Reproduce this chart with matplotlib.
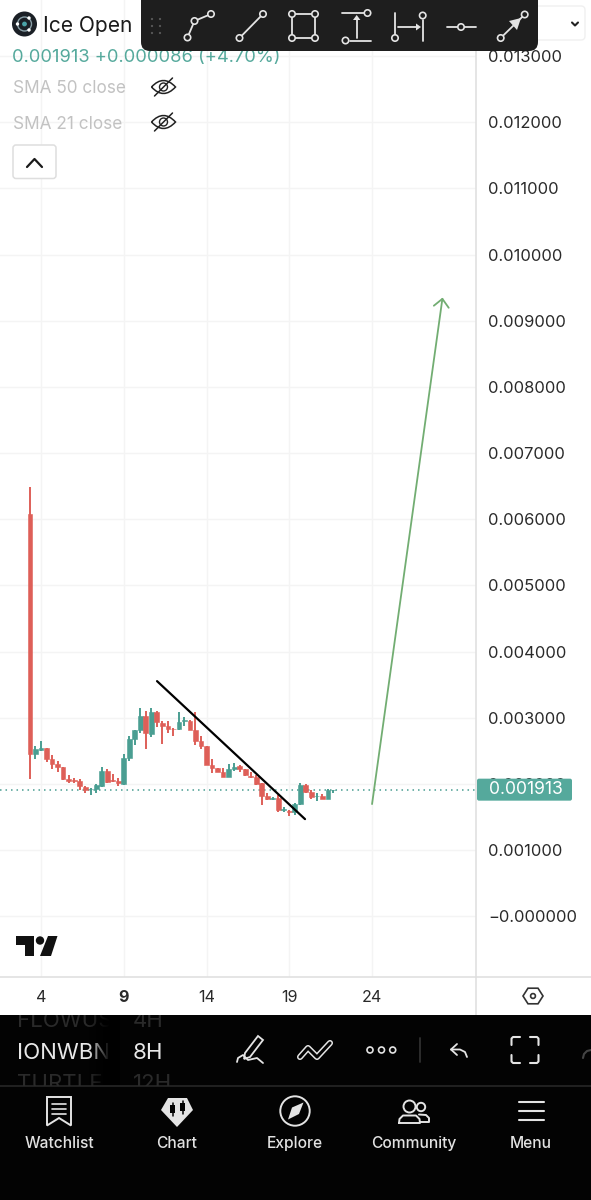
import numpy as np
import matplotlib
matplotlib.use('Agg')
import matplotlib.pyplot as plt
from matplotlib.patches import Rectangle, Circle, Polygon, FancyBboxPatch, PathPatch
from matplotlib.path import Path

plt.rcParams['font.family'] = ['Inter', 'DejaVu Sans']

W, H = 591, 1200

# candle values in millionths, one candle per 8 hours, candle 2 sits on day 4
opens = [6076, 2450, 2511, 2546, 2375, 2299, 2249, 2078, 2058, 2037, 1957, 1917, 1917, 1972,
         2198, 2052, 2037, 1992, 2390, 2672, 2808, 3019, 2757, 3085, 2924, 2873, 2833, 2823,
         2944, 2954, 2818, 2652, 2566, 2284, 2244, 2173, 2103, 2224, 2264, 2224, 2123, 2103,
         2007, 1816, 1765, 1791, 1599, 1594, 1569, 1695, 1982, 1871, 1811, 1821, 1776, 1906]
highs = [6483, 2566, 2647, 2546, 2430, 2339, 2249, 2133, 2093, 2073, 1967, 1932, 1997, 2249,
         2219, 2143, 2083, 2450, 2722, 2813, 3140, 3100, 3150, 3100, 2954, 2954, 2838, 3080,
         3004, 2964, 3090, 2727, 2566, 2370, 2244, 2244, 2294, 2319, 2284, 2229, 2183, 2133,
         2007, 1866, 1806, 1831, 1645, 1604, 1715, 2017, 1992, 1906, 1866, 1841, 1917, 1913]
lows = [2068, 2370, 2496, 2334, 2224, 2183, 2058, 2007, 2007, 1906, 1866, 1826, 1856, 1947,
        2007, 2032, 1972, 1977, 2344, 2586, 2762, 2526, 2712, 2853, 2606, 2762, 2727, 2813,
        2878, 2818, 2586, 2526, 2289, 2158, 2173, 2098, 2103, 2193, 2178, 2118, 2083, 1987,
        1685, 1755, 1755, 1569, 1579, 1519, 1529, 1680, 1866, 1776, 1745, 1771, 1771, 1856]
closes = [2450, 2521, 2546, 2375, 2299, 2249, 2073, 2037, 2037, 1962, 1901, 1927, 1977, 2193,
          2027, 2042, 2007, 2385, 2672, 2808, 3019, 2762, 3085, 2929, 2878, 2828, 2823, 2939,
          2959, 2818, 2652, 2566, 2289, 2244, 2173, 2103, 2224, 2259, 2224, 2128, 2103, 2002,
          1821, 1765, 1791, 1604, 1619, 1574, 1695, 1982, 1871, 1801, 1821, 1776, 1906, 1913]

price_ticks = [0.013, 0.012, 0.011, 0.010, 0.009, 0.008, 0.007, 0.006, 0.005, 0.004, 0.003,
               0.002, 0.001, -0.0]
price_labels = ['0.013000', '0.012000', '0.011000', '0.010000', '0.009000', '0.008000',
                '0.007000', '0.006000', '0.005000', '0.004000', '0.003000', '0.002000',
                '0.001000', '\u22120.000000']
day_ticks = [4, 9, 14, 19, 24]
last_price = 0.001913

trend_days = [11.01, 19.95]
trend_prices = [0.003553, 0.001468]
arrow_days = [24.0, 28.26]
arrow_prices = [0.001695, 0.009350]

UP = '#4a9e92'
DOWN = '#de5f58'
GRID = '#f4f4f4'
AXIS = '#dedede'
TAG = '#55a99c'
BAR = '#1e1e1e'
LIGHT = '#e4e4e4'

fig = plt.figure(figsize=(W / 100, H / 100), dpi=100, facecolor='white')

# chart area runs to x=476 and y=977 of the screenshot
ax = fig.add_axes([0, (H - 977) / H, 476 / W, 977 / H])
ax.set_xlim(1.523, 30.28)
ax.set_ylim(-0.000918, 0.013846)
for s in ax.spines.values():
    s.set_visible(False)

ax.set_axisbelow(True)
ax.grid(True, color=GRID, lw=1)
ax.yaxis.tick_right()
ax.set_yticks(price_ticks)
ax.set_yticklabels(price_labels, ha='left')
ax.tick_params(axis='y', length=0, pad=8.6, labelsize=11.9, labelcolor='#2a2a2a')
ax.set_xticks(day_ticks)
ax.set_xticklabels([str(d) for d in day_ticks])
ax.tick_params(axis='x', length=0, pad=9.4, labelsize=11.6, labelcolor='#2a2a2a')
ax.get_xticklabels()[1].set_fontweight('bold')

o = np.array(opens) / 1e6
h = np.array(highs) / 1e6
l = np.array(lows) / 1e6
c = np.array(closes) / 1e6
days = 4 + (np.arange(len(o)) - 2) / 3
colors = [UP if cc >= oo else DOWN for oo, cc in zip(o, c)]

ax.axhline(last_price, color=UP, lw=1.1, ls=(0, (1, 2.6)), zorder=1.5)
ax.vlines(days, l, h, colors=colors, lw=1.4, zorder=2)
ax.bar(days, np.abs(c - o), bottom=np.minimum(o, c), width=0.29, color=colors,
       edgecolor=colors, lw=0.4, zorder=3)

ax.plot(trend_days, trend_prices, color='black', lw=1.6, zorder=4, solid_capstyle='round')
ax.annotate('', xy=(arrow_days[1], arrow_prices[1]), xytext=(arrow_days[0], arrow_prices[0]),
            arrowprops=dict(arrowstyle='->,head_length=0.48,head_width=0.45', color='#72ad72',
                            lw=1.3, shrinkA=0, shrinkB=0, mutation_scale=12), zorder=4)

# overlay in screenshot pixels for the app's own chrome
ov = fig.add_axes([0, 0, 1, 1], zorder=5)
ov.set_xlim(0, W)
ov.set_ylim(H, 0)
ov.axis('off')
ov.patch.set_visible(False)


def ln(xs, ys, color=LIGHT, lw=1.3, z=10, **kw):
    ov.plot(xs, ys, color=color, lw=lw, zorder=z, solid_capstyle='round', **kw)


def ring(x, y, r=3.2, ec=LIGHT, fc=BAR, lw=1.2, z=11):
    ov.add_patch(Circle((x, y), r, fc=fc, ec=ec, lw=lw, zorder=z))


def label(x, y, s, size, color, ha='left', z=10, **kw):
    return ov.text(x, y, s, fontsize=size, color=color, ha=ha, va='baseline', zorder=z, **kw)


def eye(cx, cy):
    verts = [(cx - 12, cy), (cx, cy - 13), (cx + 12, cy), (cx, cy + 13), (cx - 12, cy)]
    codes = [Path.MOVETO, Path.CURVE3, Path.CURVE3, Path.CURVE3, Path.CURVE3]
    ov.add_patch(PathPatch(Path(verts, codes), fc='none', ec='#222222', lw=1.1, zorder=6))
    ov.add_patch(Circle((cx, cy), 4, fc='none', ec='#222222', lw=1.0, zorder=6))
    ln([cx - 9, cx + 9], [cy + 9, cy - 9], color='#222222', lw=1.1, z=6)


# price axis, time axis and current price tag
ln([476, 476], [0, 1015], color=AXIS, lw=1.1, z=1)
ln([0, 591], [977, 977], color=AXIS, lw=1.1, z=1)
tag_y = H - ax.transData.transform((0, last_price))[1]
ov.add_patch(FancyBboxPatch((477, tag_y - 11), 95, 22, boxstyle='round,pad=0,rounding_size=2',
                            fc=TAG, ec='none', zorder=3))
ov.text(526, tag_y, f'{last_price:.6f}', fontsize=12.6, color='white', ha='center',
        va='center', zorder=4)
hex_a = np.radians(np.arange(0, 360, 60))
ov.add_patch(Polygon(np.c_[533 + 10 * np.cos(hex_a), 996 + 9 * np.sin(hex_a)], fc='none',
                     ec='#333333', lw=1.2))
ov.add_patch(Circle((533, 996), 2.4, fc='none', ec='#333333', lw=1.2))

# TradingView mark
ov.add_patch(Polygon([(16, 936), (33.5, 936), (33.5, 956), (25, 956), (25, 945), (16, 945)],
                     fc='#111111', ec='none'))
ov.add_patch(Circle((40, 940.5), 4.2, fc='#111111', ec='none'))
ov.add_patch(Polygon([(48, 936), (57.5, 936), (51, 956), (40, 956)], fc='#111111', ec='none'))

# legend block
ov.add_patch(Circle((24.5, 24), 12.5, fc='#1b2026', ec='none', zorder=5))
ov.add_patch(Circle((24.5, 24), 7, fc='none', ec='#8aa0a8', lw=1, zorder=6))
ov.add_patch(Circle((24.5, 24), 2.4, fc='#4aa3a8', ec='none', zorder=6))
for dx, dy in [(4.5, -6), (4.5, 6), (-7, 0)]:
    ov.add_patch(Circle((24.5 + dx, 24 + dy), 1.7, fc='white', ec='none', zorder=6))
label(43, 32, 'Ice Open', 15.1, '#1b1b1b', z=5)
label(12, 61.5, '0.001913 +0.000086 (+4.70%)', 13.2, TAG, z=5)
label(13, 93, 'SMA 50 close', 12.4, '#c2c2c2', z=5)
label(13, 129, 'SMA 21 close', 12.4, '#c2c2c2', z=5)
eye(163.5, 87)
eye(163.5, 122)
ov.add_patch(FancyBboxPatch((13, 145), 43, 33.5, boxstyle='round,pad=0,rounding_size=3',
                            fc='white', ec='#dedede', lw=1.1, zorder=5))
ln([27, 34.5, 42], [167, 159, 167], color='#1a1a1a', lw=1.6, z=6)

# dropdown behind the toolbar's right end
ov.add_patch(FancyBboxPatch((520, 6), 65, 34, boxstyle='round,pad=0,rounding_size=4',
                            fc='white', ec='#f0f0f0', lw=1, zorder=5))
ln([572, 575, 578], [22.5, 25.5, 22.5], color='#222222', lw=1.5, z=6)

# floating drawing toolbar
ov.add_patch(FancyBboxPatch((141, -10), 397, 61, boxstyle='round,pad=0,rounding_size=9',
                            fc=BAR, ec='none', zorder=9))
for gx in (152, 160):
    for gy in (19, 26, 33):
        ov.add_patch(Circle((gx, gy), 1.1, fc='#5a5a5a', ec='none', zorder=10))
ln([187.5, 194.5, 211], [37.5, 21, 14])
for p in [(187.5, 37.5), (194.5, 21), (211, 14)]:
    ring(*p)
ln([239.5, 263], [38, 14])
ring(239.5, 38)
ring(263, 14)
ln([292, 315, 315, 292, 292], [14, 14, 38, 38, 14])
for p in [(292, 14), (315, 14), (292, 38), (315, 38)]:
    ring(*p)
ln([342, 364], [13, 13])
ring(367.5, 13)
ln([350, 371], [40.5, 40.5])
ring(345.5, 40.5)
ln([356.7, 356.7], [38, 18])
ov.add_patch(Polygon([(356.7, 15), (353, 20), (360.4, 20)], fc=LIGHT, ec='none', zorder=10))
ln([395, 395], [13, 34])
ring(395, 38)
ln([422.7, 422.7], [20, 41])
ring(422.7, 15.5)
ln([398, 418], [27, 27])
ov.add_patch(Polygon([(421, 27), (416, 23.5), (416, 30.5)], fc=LIGHT, ec='none', zorder=10))
ln([447, 476], [27, 27])
ring(461, 27)
ln([500.7, 524.7], [38, 14.5])
ring(500.7, 38)
ring(524.7, 14.5)
ov.add_patch(Polygon([(521, 18), (509, 21), (517, 30)], fc=LIGHT, ec='none', zorder=10))

# bottom app panel
ov.add_patch(Rectangle((0, 1015), W, 185, fc='#030303', ec='none', zorder=7))
clip = Rectangle((0, 1015), W, 71, fc='none', ec='none', transform=ov.transData)
ov.add_patch(clip)
for t in [label(17, 1027, 'FLOWUS', 16, '#2a2a2a', z=8), label(133, 1027, '4H', 16, '#2a2a2a', z=8),
          label(17, 1059, 'IONWBN', 16, '#e8e8e8', z=8), label(133, 1059, '8H', 16, '#e8e8e8', z=8),
          label(17, 1090, 'TURTLE', 16, '#2a2a2a', z=8), label(133, 1090, '12H', 16, '#2a2a2a', z=8)]:
    t.set_clip_path(clip)
    t.set_clip_on(True)
fade = np.zeros((1, 32, 4))
fade[0, :, 3] = np.concatenate([np.linspace(0, 1, 22), np.ones(10)])
ov.imshow(fade, extent=(88, 120, 1086, 1015), aspect='auto', zorder=9, interpolation='bilinear')
ov.set_xlim(0, W)
ov.set_ylim(H, 0)
ln([0, 591], [1086, 1086], color='#2a2a2a', lw=1.1)

# pen
ov.add_patch(Polygon([(245, 1053), (258, 1036), (263, 1040), (250, 1057), (244, 1059)],
                     fc='none', ec=LIGHT, lw=1.3, zorder=10))
ln([237, 238, 243, 248, 257, 263], [1062, 1058, 1055, 1060, 1058, 1063])
# trend drawing shortcut, outline made from a thick light line and a thin dark one
ln([300, 308, 317, 330], [1057, 1048, 1057, 1043], lw=4.4)
ln([300, 308, 317, 330], [1057, 1048, 1057, 1043], color='#030303', lw=2.2, z=11)
for cx in (370, 381.5, 392.7):
    ring(cx, 1050, r=3, fc='#030303')
ln([420, 420], [1038, 1062], color='#303030')
ln([451, 460, 465, 467], [1049.5, 1049.5, 1052, 1057])
ln([457, 451, 457], [1044, 1049.5, 1055])
for sx, sy in [(1, 1), (-1, 1), (1, -1), (-1, -1)]:
    ln([525 + sx * 13.5, 525 + sx * 13.5, 525 + sx * 12, 525 + sx * 5],
       [1050 + sy * 5, 1050 + sy * 11.5, 1050 + sy * 13, 1050 + sy * 13], lw=1.5)
ln([583, 584, 587, 591], [1058, 1054, 1051, 1050], color='#444444', lw=1.5)

# nav bar
ov.add_patch(Polygon([(47, 1097), (71, 1097), (71, 1125.5), (59, 1118), (47, 1125.5)],
                     fc='none', ec=LIGHT, lw=1.4, zorder=10))
for ny in (1103.5, 1108.5, 1114):
    ln([52, 66], [ny, ny], lw=1.2)
ov.add_patch(Polygon([(161, 1110), (168, 1098), (187, 1098), (193, 1110), (177, 1127)],
                     fc=LIGHT, ec='none', zorder=10))
for gx, gy in [(172.5, 1109), (182.5, 1107)]:
    ln([gx, gx], [gy - 6.5, gy + 6.5], color='#030303', lw=1.1, z=11)
    ov.add_patch(Rectangle((gx - 2.4, gy - 4), 4.8, 8, fc='#030303', ec='none', zorder=11))
ov.add_patch(Circle((295, 1111), 14.7, fc='none', ec=LIGHT, lw=1.4, zorder=10))
ov.add_patch(Polygon([(303.5, 1102.5), (299, 1114), (288, 1119.5), (292, 1107.5)],
                     fc=LIGHT, ec='none', zorder=10))
ov.add_patch(Circle((409.5, 1106.5), 6, fc='none', ec=LIGHT, lw=1.4, zorder=10))
ov.add_patch(Circle((421, 1107), 4.2, fc='none', ec=LIGHT, lw=1.4, zorder=10))
ln([399, 399.5, 403, 416, 419.5, 420, 399], [1123, 1119, 1115.5, 1115.5, 1119, 1123, 1123], lw=1.4)
ln([420, 429, 429, 426, 419], [1122, 1122, 1118, 1115, 1114.5], lw=1.4)
for ny in (1102, 1111, 1119.5):
    ln([519, 544], [ny, ny], lw=1.5)
for nx, name in [(59, 'Watchlist'), (177, 'Chart'), (295, 'Explore'), (413.5, 'Community'), (531, 'Menu')]:
    label(nx, 1148, name, 11.2, '#e2e2e2', ha='center', fontweight='medium')

fig.savefig('out.png', dpi=100)
